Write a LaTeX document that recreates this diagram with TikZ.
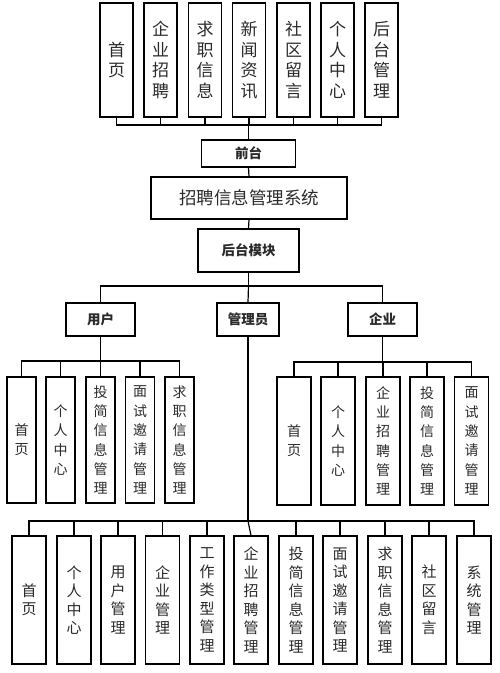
\documentclass[tikz,border=0pt]{standalone}
\usepackage{fontspec}
\newfontfamily\cjk{Noto Sans CJK SC}
\definecolor{txt}{HTML}{2A2A2A}
\begin{document}
\begin{tikzpicture}[x=1pt,y=-1pt,
  line width=1.2pt,
  box/.style={draw, inner sep=0pt, align=center, text=txt},
  topbox/.style={box, minimum width=33pt, minimum height=114pt, font=\cjk\fontsize{17}{20.5}\selectfont},
  lblbox/.style={box, font=\cjk\bfseries\fontsize{13.5}{16}\selectfont},
  usrbox/.style={box, minimum width=29pt, minimum height=126pt, font=\cjk\fontsize{14}{19.3}\selectfont},
  entbox/.style={box, minimum width=34pt, minimum height=128pt, font=\cjk\fontsize{14}{19.3}\selectfont},
  botbox/.style={box, minimum width=34pt, minimum height=128pt, font=\cjk\fontsize{15}{18.5}\selectfont},
  link/.style={draw, line width=1.2pt}]
\useasboundingbox (0,0) rectangle (500,673);
% top row
\node[topbox] (t1) at (116.5,60) {首\\页};
\node[topbox] (t2) at (160.5,60) {企\\业\\招\\聘};
\node[topbox] (t3) at (205,60) {求\\职\\信\\息};
\node[topbox] (t4) at (249,60) {新\\闻\\资\\讯};
\node[topbox] (t5) at (293.5,60) {社\\区\\留\\言};
\node[topbox] (t6) at (337.5,60) {个\\人\\中\\心};
\node[topbox] (t7) at (381.5,60) {后\\台\\管\\理};
\coordinate (tbus) at (248.5,125);
\node[lblbox, minimum width=94pt, minimum height=27pt] (qt) at (248.5,153.5) {前台};
\node[box, minimum width=196pt, minimum height=42pt, font=\cjk\fontsize{17.5}{20}\selectfont] (sys) at (249,198) {招聘信息管理系统};
\node[lblbox, minimum width=101pt, minimum height=43pt] (ht) at (248.5,250.5) {后台模块};
\coordinate (hbus) at (248.5,286);
\node[lblbox, minimum width=69pt, minimum height=33pt] (usr) at (100.5,319.5) {用户};
\node[lblbox, minimum width=62pt, minimum height=33pt] (adm) at (248,319.5) {管理员};
\node[lblbox, minimum width=69pt, minimum height=33pt] (ent) at (382.5,319.5) {企业};
% user children
\coordinate (ubus) at (100.5,361);
\node[usrbox] (u1) at (21.5,440) {首\\页};
\node[usrbox] (u2) at (60.5,440) {个\\人\\中\\心};
\node[usrbox] (u3) at (100.5,440) {投\\简\\信\\息\\管\\理};
\node[usrbox] (u4) at (140,440) {面\\试\\邀\\请\\管\\理};
\node[usrbox] (u5) at (179.5,440) {求\\职\\信\\息\\管\\理};
% enterprise children
\coordinate (ebus) at (382.5,362);
\node[entbox] (e1) at (294,441) {首\\页};
\node[entbox] (e2) at (338,441) {个\\人\\中\\心};
\node[entbox] (e3) at (383,441) {企\\业\\招\\聘\\管\\理};
\node[entbox] (e4) at (427,441) {投\\简\\信\\息\\管\\理};
\node[entbox] (e5) at (471.5,441) {面\\试\\邀\\请\\管\\理};
% admin children
\coordinate (abus) at (248,521);
\node[botbox] (b1) at (29,600) {首\\页};
\node[botbox] (b2) at (74,600) {个\\人\\中\\心};
\node[botbox] (b3) at (118,600) {用\\户\\管\\理};
\node[botbox] (b4) at (162.5,600) {企\\业\\管\\理};
\node[botbox] (b5) at (207,600) {工\\作\\类\\型\\管\\理};
\node[botbox] (b6) at (251,600) {企\\业\\招\\聘\\管\\理};
\node[botbox] (b7) at (296,600) {投\\简\\信\\息\\管\\理};
\node[botbox] (b8) at (340,600) {面\\试\\邀\\请\\管\\理};
\node[botbox] (b9) at (385,600) {求\\职\\信\\息\\管\\理};
\node[botbox] (b10) at (429,600) {社\\区\\留\\言};
\node[botbox] (b11) at (474,600) {系\\统\\管\\理};
% connectors
\foreach \i in {1,...,7} {\draw[link] (t\i.south) |- (tbus);}
\draw[link] (tbus) -- (qt.north);
\draw[link] (qt.south) -- (sys.north);
\draw[link] (sys.south) -- (ht.north);
\draw[link] (ht.south) -- (hbus);
\draw[link] (usr.north) |- (hbus) -| (ent.north);
\draw[link] (hbus) -- (adm.north);
\draw[link] (usr.south) -- (ubus);
\foreach \i in {1,...,5} {\draw[link] (u\i.north) |- (ubus);}
\draw[link] (ent.south) -- (ebus);
\foreach \i in {1,...,5} {\draw[link] (e\i.north) |- (ebus);}
\draw[link] (adm.south) -- (abus);
\foreach \i in {1,2,3,4,5,7,8,9,10,11} {\draw[link] (b\i.north) |- (abus);}
\draw[link] (abus) -- (b6.north);
\end{tikzpicture}
\end{document}
